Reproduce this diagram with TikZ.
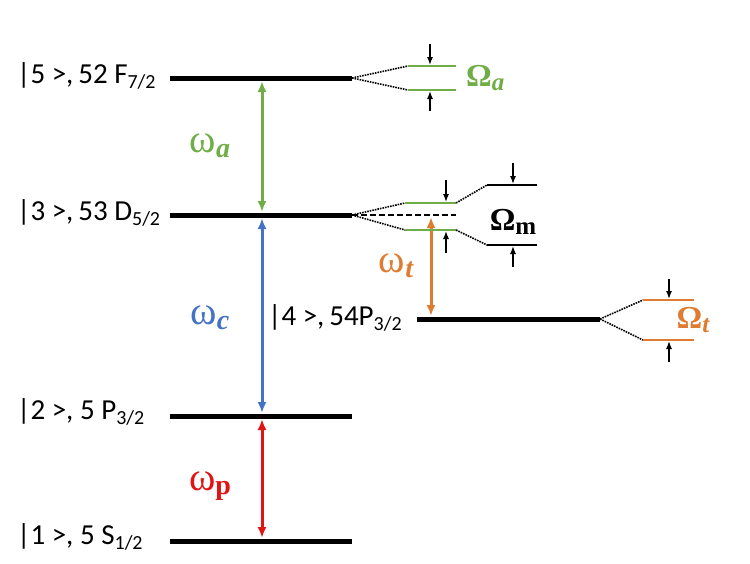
\documentclass[tikz,border=0pt]{standalone}
\usepackage{fontspec}
\setmainfont{Carlito}
\newfontfamily\symfont{Liberation Serif}
\usetikzlibrary{arrows.meta}
\definecolor{lvgreen}{RGB}{112,173,71}
\definecolor{lvblue}{RGB}{68,114,196}
\definecolor{lvred}{RGB}{224,20,20}
\definecolor{lvorange}{RGB}{222,125,50}
\newcommand{\lsub}[1]{\raisebox{-0.35ex}{\fontsize{20}{20}\selectfont #1}}
\newcommand{\omlab}[1]{{\symfont\fontsize{40}{40}\selectfont ω\raisebox{-0.25ex}{\fontsize{28}{28}\selectfont\bfseries #1}}}
\newcommand{\Omlab}[1]{{\symfont\bfseries\fontsize{32}{32}\selectfont Ω\raisebox{-0.3ex}{\fontsize{25}{25}\selectfont #1}}}
\tikzset{
  level/.style={line width=5pt},
  sublevel/.style={line width=2.2pt},
  split/.style={densely dotted, line width=1.6pt},
  trans/.style={line width=3pt, {Latex[length=11pt,width=9pt]}-{Latex[length=11pt,width=9pt]}},
  pinch/.style={line width=1.3pt, -{Latex[length=8pt,width=6pt]}},
  lvlabel/.style={font=\fontsize{29}{33}\selectfont, anchor=west, inner sep=0pt}
}
\begin{document}
\begin{tikzpicture}[x=1pt,y=-1pt]
      \useasboundingbox (0,0) rectangle (750,563);
      % main levels
      \coordinate (l5a) at (170,78);  \coordinate (l5b) at (352,78);
      \coordinate (l3a) at (170,215); \coordinate (l3b) at (352,215);
      \coordinate (l2a) at (170,416); \coordinate (l2b) at (352,416);
      \coordinate (l1a) at (170,541); \coordinate (l1b) at (352,541);
      \coordinate (l4a) at (417,319); \coordinate (l4b) at (600,319);
      \draw[level] (l5a) -- (l5b);
      \draw[level] (l3a) -- (l3b);
      \draw[level] (l2a) -- (l2b);
      \draw[level] (l1a) -- (l1b);
      \draw[level] (l4a) -- (l4b);
      \node[lvlabel] (t5) at (17,76) {|5 >,\,52 F\lsub{7/2}};
      \node[lvlabel] (t3) at (17,213) {|3 >,\,53 D\lsub{5/2}};
      \node[lvlabel] (t2) at (17,412) {|2 >, 5 P\lsub{3/2}};
      \node[lvlabel] (t1) at (17,537) {|1 >, 5 S\lsub{1/2}};
      \node[lvlabel] (t4) at (268,318) {|4 >,\,54P\lsub{3/2}};
      % transitions
      \coordinate (g1) at (262,81);  \coordinate (g2) at (262,212);
      \coordinate (b1) at (262,218); \coordinate (b2) at (262,413);
      \coordinate (r1) at (262,419); \coordinate (r2) at (262,538);
      \coordinate (o1) at (431,217); \coordinate (o2) at (431,316);
      \draw[trans, lvgreen] (g1) -- (g2);
      \draw[trans, lvblue] (b1) -- (b2);
      \draw[trans, lvred] (r1) -- (r2);
      \draw[trans, lvorange] (o1) -- (o2);
      \node[lvgreen] (wa) at (210,146) {\omlab{\itshape a}};
      \node[lvblue] (wc) at (210,318) {\omlab{\itshape c}};
      \node[lvred] (wp) at (210,486) {\omlab{p}};
      \node[lvorange] (wt) at (396,266) {\omlab{\itshape t}};
      % splitting of |5>
      \coordinate (a1) at (408,66);  \coordinate (a1e) at (456,66);
      \coordinate (a2) at (408,90);  \coordinate (a2e) at (456,90);
      \draw[split] (l5b) -- (a1);
      \draw[split] (l5b) -- (a2);
      \draw[sublevel, lvgreen] (a1) -- (a1e);
      \draw[sublevel, lvgreen] (a2) -- (a2e);
      \draw[pinch] (430,44) -- (430,65);
      \draw[pinch] (430,111) -- (430,91);
      \node[lvgreen, anchor=west, inner sep=0pt] (Wa) at (466,78) {\Omlab{\itshape a}};
      % splitting of |3>
      \coordinate (m1) at (405,203); \coordinate (m1e) at (456,203);
      \coordinate (m2) at (405,230); \coordinate (m2e) at (456,230);
      \coordinate (m0e) at (456,215);
      \draw[split] (l3b) -- (m1);
      \draw[split] (l3b) -- (m2);
      \draw[line width=1.6pt, dash pattern=on 6pt off 3pt] (l3b) -- (m0e);
      \draw[sublevel, lvgreen] (m1) -- (m1e);
      \draw[sublevel, lvgreen] (m2) -- (m2e);
      \draw[pinch] (446,180) -- (446,202);
      \draw[pinch] (446,253) -- (446,231);
      \coordinate (n1) at (487,185); \coordinate (n1e) at (537,185);
      \coordinate (n2) at (487,245); \coordinate (n2e) at (537,245);
      \draw[split] (m1e) -- (n1);
      \draw[split] (m2e) -- (n2);
      \draw[sublevel] (n1) -- (n1e);
      \draw[sublevel] (n2) -- (n2e);
      \draw[pinch] (513,163) -- (513,184);
      \draw[pinch] (513,267) -- (513,246);
      \node (Wm) at (513,222) {\Omlab{m}};
      % splitting of |4>
      \coordinate (s1) at (643,300); \coordinate (s1e) at (694,300);
      \coordinate (s2) at (643,340); \coordinate (s2e) at (694,340);
      \draw[split] (l4b) -- (s1);
      \draw[split] (l4b) -- (s2);
      \draw[sublevel, lvorange] (s1) -- (s1e);
      \draw[sublevel, lvorange] (s2) -- (s2e);
      \draw[pinch] (669,279) -- (669,299);
      \draw[pinch] (669,362) -- (669,341);
      \node[lvorange] (Wt) at (693,320) {\Omlab{\itshape t}};
\end{tikzpicture}
\end{document}
